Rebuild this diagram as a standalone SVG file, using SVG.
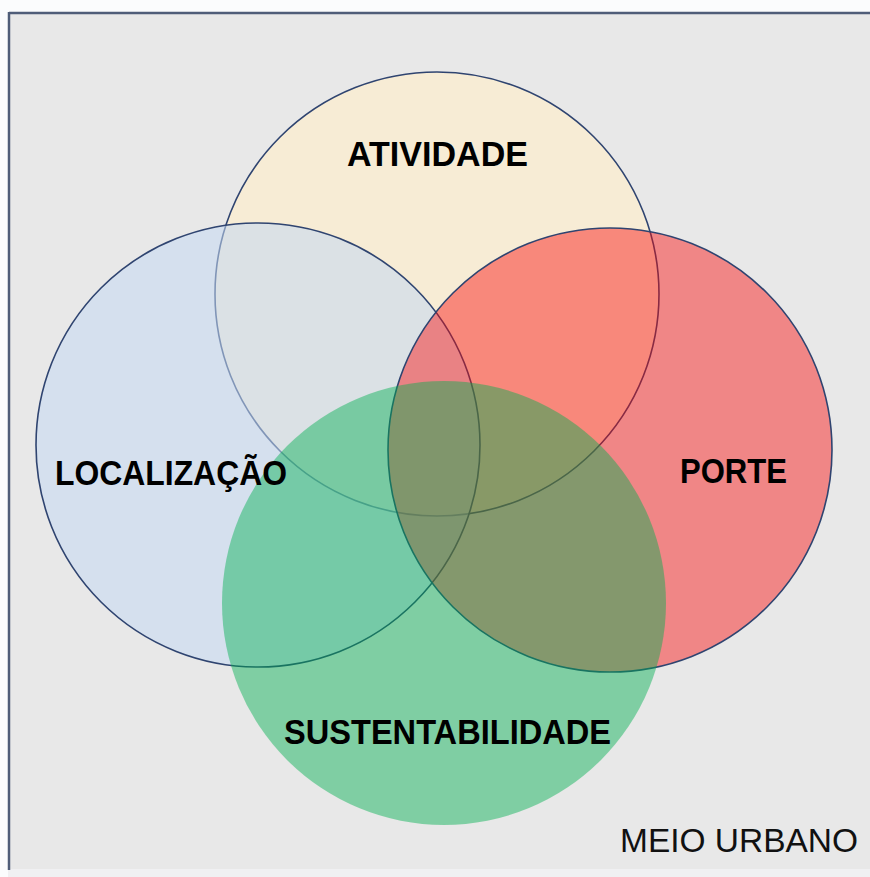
<svg xmlns="http://www.w3.org/2000/svg" width="870" height="877" viewBox="0 0 870 877">
<style>
.ring{stroke:#2f4470;stroke-width:1.6}
.lb{font-family:"Liberation Sans",Arial,sans-serif;font-weight:bold;font-size:35px;fill:#000}
.lr{font-family:"Liberation Sans",Arial,sans-serif;font-size:34px;fill:#111}
</style>
<rect x="0" y="0" width="870" height="877" fill="#fbfcfd"/>
<rect x="8" y="13" width="862" height="856" fill="#e8e8e8"/>
<rect x="8" y="869" width="862" height="8" fill="#f0f0f2"/>
<g id="frame">
<line x1="9" y1="13" x2="870" y2="13" stroke="#4f5d78" stroke-width="2.5"/>
<line x1="9" y1="12" x2="9" y2="870" stroke="#4f5d78" stroke-width="2.5"/>
</g>
<g id="atividade">
<circle class="ring" cx="437" cy="294" r="222" fill="#f7ecd5"/>
</g>
<g id="localizacao">
<circle class="ring" cx="258" cy="445" r="222" fill="#c4d8f2" fill-opacity="0.55"/>
</g>
<g id="porte">
<circle class="ring" cx="610" cy="450" r="222" fill="#fa0a0a" fill-opacity="0.44"/>
</g>
<g id="sustentabilidade">
<circle cx="444" cy="603" r="222" fill="#00b050" fill-opacity="0.45"/>
</g>
<g id="connectors"></g>
<g id="labels">
<text id="t-atividade" class="lb" x="347" y="166" textLength="181" lengthAdjust="spacingAndGlyphs">ATIVIDADE</text>
<text id="t-localizacao" class="lb" x="55" y="485" textLength="232" lengthAdjust="spacingAndGlyphs">LOCALIZAÇÃO</text>
<text id="t-porte" class="lb" x="680" y="483" textLength="107" lengthAdjust="spacingAndGlyphs">PORTE</text>
<text id="t-sustentabilidade" class="lb" x="284" y="744" textLength="327" lengthAdjust="spacingAndGlyphs">SUSTENTABILIDADE</text>
<text id="t-meio" class="lr" x="620" y="852" textLength="238" lengthAdjust="spacingAndGlyphs">MEIO URBANO</text>
</g>
</svg>
